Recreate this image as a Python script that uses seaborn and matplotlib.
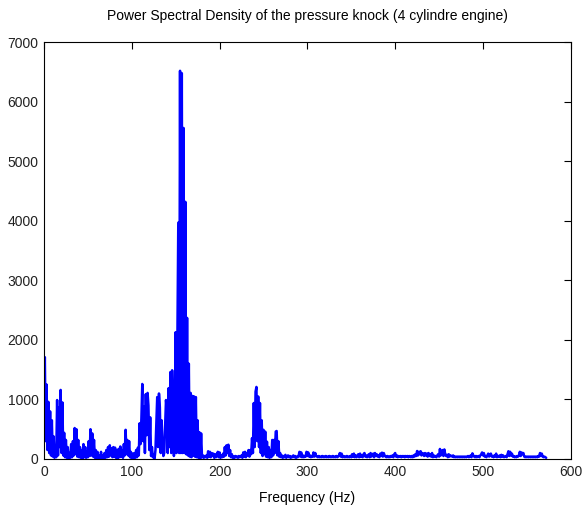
import numpy as np
import pandas as pd
import matplotlib
matplotlib.use("Agg")
import matplotlib.pyplot as plt
import seaborn as sns

# Power spectral density of the knock pressure signal, one value per 1 Hz bin (0..572 Hz)
psd = [
    800, 1710, 300, 1250, 150, 960, 100, 800, 60, 650,
    40, 380, 20, 200, 30, 990, 60, 870, 200, 1160,
    100, 950, 60, 440, 30, 320, 20, 200, 10, 100,
    20, 250, 30, 300, 60, 520, 80, 500, 40, 320,
    30, 200, 20, 150, 10, 250, 30, 200, 20, 120,
    30, 300, 50, 500, 60, 430, 40, 320, 20, 150,
    10, 120, 10, 60, 20, 120, 10, 60, 10, 100,
    20, 150, 30, 200, 40, 230, 60, 180, 30, 200,
    40, 190, 20, 150, 10, 170, 30, 210, 40, 150,
    20, 250, 60, 490, 80, 320, 60, 300, 30, 120,
    10, 90, 10, 100, 20, 150, 30, 190, 60, 600,
    250, 690, 1260, 300, 880, 100, 1090, 400, 1110, 900,
    150, 700, 50, 200, 30, 80, 10, 150, 600, 1040,
    200, 1100, 870, 100, 650, 270, 50, 100, 550, 990,
    820, 100, 1190, 200, 1460, 100, 1490, 1040, 50, 270,
    2130, 100, 2140, 3970, 100, 6520, 100, 6480, 100, 5560,
    100, 4320, 80, 2370, 60, 1600, 40, 1110, 30, 1060,
    60, 1050, 40, 1040, 30, 650, 20, 450, 10, 430,
    30, 60, 20, 50, 30, 60, 20, 130, 40, 120,
    30, 100, 50, 90, 20, 80, 30, 60, 120, 30,
    110, 20, 60, 30, 90, 40, 200, 60, 230, 100,
    240, 50, 150, 30, 80, 20, 40, 20, 50, 30,
    40, 20, 50, 30, 40, 60, 20, 110, 40, 120,
    30, 100, 60, 150, 40, 150, 80, 350, 100, 940,
    200, 1130, 1210, 300, 1050, 200, 940, 100, 650, 50,
    490, 80, 460, 40, 290, 30, 200, 20, 150, 30,
    320, 60, 320, 100, 460, 470, 60, 300, 40, 100,
    30, 60, 20, 50, 30, 70, 20, 40, 60, 30,
    50, 20, 40, 30, 60, 30, 50, 20, 40, 30,
    50, 120, 40, 110, 30, 60, 30, 50, 40, 120,
    50, 110, 40, 60, 30, 50, 40, 110, 40, 100,
    50, 40, 30, 50, 30, 40, 30, 50, 30, 40,
    30, 50, 30, 40, 30, 50, 30, 40, 30, 50,
    30, 40, 30, 50, 30, 40, 60, 100, 40, 90,
    30, 50, 30, 40, 30, 50, 30, 40, 30, 50,
    30, 80, 40, 90, 30, 60, 30, 50, 80, 30,
    90, 40, 60, 30, 80, 100, 40, 60, 30, 50,
    80, 30, 100, 40, 60, 90, 30, 100, 50, 80,
    40, 60, 30, 90, 50, 106, 40, 100, 60, 40,
    30, 50, 30, 40, 30, 50, 40, 60, 30, 80,
    100, 40, 60, 30, 50, 40, 50, 30, 50, 40,
    50, 30, 50, 40, 50, 30, 50, 40, 30, 50,
    30, 60, 40, 80, 50, 134, 60, 120, 80, 130,
    60, 100, 90, 50, 100, 60, 90, 40, 100, 50,
    80, 40, 100, 30, 60, 40, 50, 30, 60, 80,
    40, 168, 60, 120, 150, 50, 160, 80, 50, 70,
    30, 80, 40, 60, 50, 40, 60, 30, 40, 30,
    40, 30, 40, 30, 40, 30, 40, 30, 40, 30,
    40, 30, 40, 50, 30, 40, 60, 30, 95, 60,
    40, 30, 50, 30, 40, 50, 30, 60, 80, 110,
    60, 100, 40, 50, 30, 60, 90, 40, 80, 90,
    40, 50, 30, 60, 40, 90, 30, 50, 40, 60,
    30, 70, 40, 60, 30, 40, 50, 30, 80, 130,
    50, 120, 60, 90, 40, 50, 30, 40, 30, 50,
    40, 60, 120, 50, 110, 80, 100, 40, 30, 40,
    30, 40, 30, 40, 30, 40, 30, 40, 30, 40,
    30, 40, 30, 50, 40, 100, 50, 90, 40, 30,
    40, 30, 20,
]
freq_hz = np.arange(len(psd))

title_text = "Power Spectral Density of the pressure knock (4 cylindre engine)"
x_label = "Frequency (Hz)"
x_ticks = [0, 100, 200, 300, 400, 500, 600]
y_ticks = [0, 1000, 2000, 3000, 4000, 5000, 6000, 7000]

sns.set_theme(style="white")
plt.rcParams["font.family"] = ["Liberation Sans", "DejaVu Sans"]

fig = plt.figure(figsize=(5.86, 5.07), dpi=100)
ax = fig.add_axes([0.075, 0.0947, 0.899, 0.822])

df = pd.DataFrame({"freq": freq_hz, "psd": psd})
sns.lineplot(data=df, x="freq", y="psd", color=(0, 0, 1), linewidth=1.8,
             ax=ax, estimator=None, sort=False)

ax.set_xlim(0, 600)
ax.set_ylim(0, 7000)
ax.set_xticks(x_ticks)
ax.set_yticks(y_ticks)
ax.set_xticklabels([str(t) for t in x_ticks])
ax.set_yticklabels([str(t) for t in y_ticks])
ax.tick_params(direction="in", top=True, right=True, length=5, width=0.8,
               colors="black", labelcolor="#222222", labelsize=10, pad=4)
for s in ax.spines.values():
    s.set_visible(True)
    s.set_color("black")
    s.set_linewidth(0.8)

ax.set_xlabel(x_label, fontsize=10, labelpad=9, color="black")
ax.set_ylabel("")
ax.set_title(title_text, fontsize=10, pad=16, color="black")

fig.savefig("out.png", dpi=100)
